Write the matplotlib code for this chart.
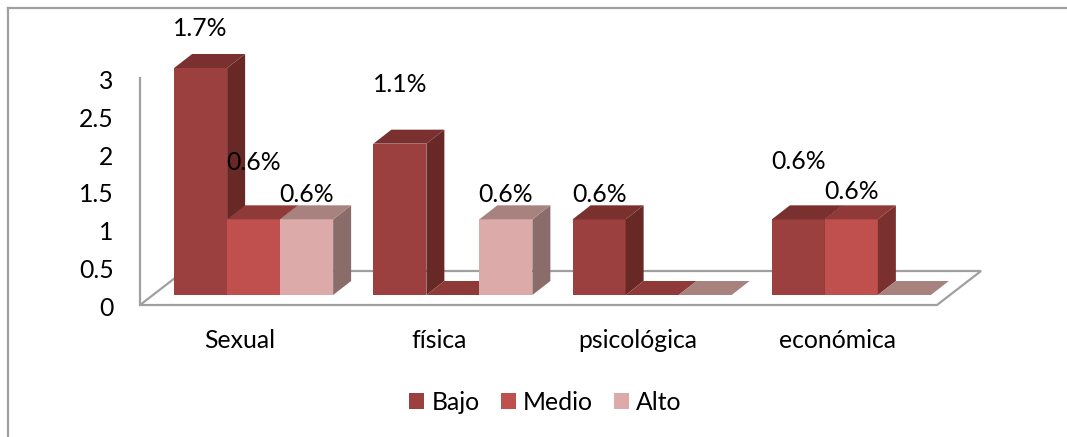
import matplotlib
matplotlib.use("Agg")
import matplotlib.pyplot as plt
from matplotlib.lines import Line2D
from matplotlib.patches import Patch, Polygon
from matplotlib.transforms import ScaledTranslation

plt.rcParams["font.family"] = ["Lato", "DejaVu Sans"]

categories = ["Sexual", "física", "psicológica", "económica"]
series_names = ["Bajo", "Medio", "Alto"]
bajo = [3, 2, 1, 1]
medio = [1, 0, 0, 1]
alto = [1, 1, 0, 0]
labels_bajo = ["1.7%", "1.1%", "0.6%", "0.6%"]
labels_medio = ["0.6%", None, None, "0.6%"]
labels_alto = ["0.6%", "0.6%", None, None]
y_ticks = [0, 0.5, 1, 1.5, 2, 2.5, 3]
y_tick_labels = ["0", "0.5", "1", "1.5", "2", "2.5", "3"]

# label height above the front top edge of each bar, px
lift_bajo = [40, 60, 26, 59]
lift_medio = [58, 0, 0, 29]
lift_alto = [26, 26, 0, 0]

front_colors = ["#9B403E", "#C0504D", "#DBAAA9"]
top_colors = ["#7A302E", "#8F3A38", "#A8827F"]
side_colors = ["#672826", "#7A302E", "#8A6C6A"]

W, H = 1067, 437
AX_L, AX_R, AX_B, AX_T = 140, 937, 305, 78
FONT = 17.8

fig = plt.figure(figsize=(W / 100, H / 100), dpi=100)
ax = fig.add_axes([AX_L / W, 1 - AX_B / H, (AX_R - AX_L) / W, (AX_B - AX_T) / H])
ax.set_xlim(0, len(categories))
ax.set_ylim(0, 3)

px_x = len(categories) / (AX_R - AX_L)
px_y = 3 / (AX_B - AX_T)

# oblique projection, in data units
bar_w = 53 * px_x
floor_dx, floor_dy = 44 * px_x, 34 * px_y
gap_dx, gap_dy = 14 * px_x, 10 * px_y
depth_dx, depth_dy = 18 * px_x, 14 * px_y

n = len(categories)
floor = Polygon(
    [(0, 0), (n, 0), (n + floor_dx, floor_dy), (floor_dx, floor_dy)],
    facecolor="white", edgecolor="#A0A0A0", linewidth=1.6, zorder=1, clip_on=False,
)
ax.add_patch(floor)

values = [bajo, medio, alto]
texts = [labels_bajo, labels_medio, labels_alto]
lifts = [lift_bajo, lift_medio, lift_alto]

z = 2
for c in range(n):
    for s in range(3):
        v = values[s][c]
        x0 = c + gap_dx + 0.5 + (s - 1.5) * bar_w
        x1 = x0 + bar_w
        y0 = gap_dy
        y1 = gap_dy + v
        if v > 0:
            ax.bar(x0, v, bar_w, bottom=y0, align="edge", color=front_colors[s],
                   linewidth=0, zorder=z, clip_on=False)
            side = Polygon(
                [(x1, y0), (x1 + depth_dx, y0 + depth_dy), (x1 + depth_dx, y1 + depth_dy), (x1, y1)],
                facecolor=side_colors[s], linewidth=0, zorder=z, clip_on=False,
            )
            ax.add_patch(side)
        top = Polygon(
            [(x0, y1), (x1, y1), (x1 + depth_dx, y1 + depth_dy), (x0 + depth_dx, y1 + depth_dy)],
            facecolor=top_colors[s], linewidth=0, zorder=z, clip_on=False,
        )
        ax.add_patch(top)
        z += 1

for c in range(n):
    for s in range(3):
        if texts[s][c] is None:
            continue
        x0 = c + gap_dx + 0.5 + (s - 1.5) * bar_w
        ax.annotate(
            texts[s][c],
            (x0 + bar_w / 2, gap_dy + values[s][c]),
            xytext=(0, lifts[s][c] * 0.72 - 0.5),
            textcoords="offset points",
            ha="center", va="center", fontsize=FONT, color="black",
            zorder=100, annotation_clip=False,
        )

for spine in ["top", "right", "bottom"]:
    ax.spines[spine].set_visible(False)
ax.spines["left"].set_color("#A0A0A0")
ax.spines["left"].set_linewidth(1.6)
ax.spines["left"].set_zorder(1.5)
ax.patch.set_visible(False)

ax.set_xticks([c + 0.5 for c in range(n)], categories)
ax.set_yticks(y_ticks, y_tick_labels)
ax.tick_params(axis="both", length=0, labelsize=FONT, labelcolor="black")
ax.tick_params(axis="x", pad=17)
ax.tick_params(axis="y", pad=19)

# y labels sit a little under their ticks
shift_down = ScaledTranslation(0, -1.5 / 100, fig.dpi_scale_trans)
for label in ax.get_yticklabels():
    label.set_transform(label.get_transform() + shift_down)

handles = [Patch(facecolor=front_colors[i], linewidth=0, label=series_names[i]) for i in range(3)]
fig.legend(
    handles=handles, ncol=3, loc="center", bbox_to_anchor=(545.5 / W, 1 - 402.5 / H),
    frameon=False, fontsize=FONT, handlelength=0.6, handleheight=0.6,
    handletextpad=0.3, columnspacing=0.85, borderpad=0,
)

# chart area border
border = "#A0A0A0"
fig.add_artist(Line2D([8 / W, 8 / W], [0, 1 - 8 / H], color=border, linewidth=1.6))
fig.add_artist(Line2D([8 / W, 1], [1 - 8 / H, 1 - 8 / H], color=border, linewidth=1.6))

fig.savefig("out.png", dpi=100)
